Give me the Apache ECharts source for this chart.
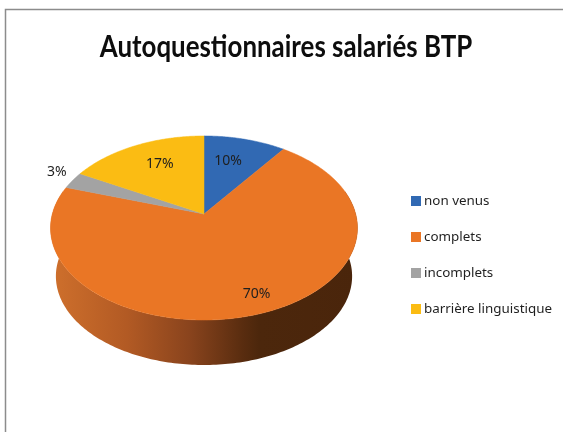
<!DOCTYPE html>
<html><head><meta charset="utf-8">
<style>html,body{margin:0;padding:0;background:#fff}#c{width:563px;height:432px}</style>
<script src="https://cdn.jsdelivr.net/npm/echarts@6/dist/echarts.min.js"></script></head>
<body><div id="c"></div><script>
const titleText = 'Autoquestionnaires salariés BTP';
const categories = ['non venus', 'complets', 'incomplets', 'barrière linguistique'];
const values = [10, 70, 3, 17];
const colors = ['#3169b3', '#ea7625', '#a3a3a3', '#fbbc13'];

// Projection of the tilted pie disc
const apex = [204, 214], A = 151.7, B = 89.9, K = 0.152;
const wallScale = 0.965, wallDrop = 48.7;
const labelRadius = [0.68, 0.82, 1.27, 0.71];
const labelNudge = [[-5, 0], [9, 0], [17, 0], [6, 0]];
const total = values.reduce((a, b) => a + b, 0);
const rad = d => d * Math.PI / 180;
function proj(deg, f) {
  const u = Math.sin(rad(deg)) * f, v = Math.cos(rad(deg)) * f, w = 1 + K * v;
  return [apex[0] + A * u / w, apex[1] - B * v / w];
}
function lower(p) {
  return [apex[0] + (p[0] - apex[0]) * wallScale, apex[1] + (p[1] - apex[1]) * wallScale + wallDrop];
}
const wallFill = new echarts.graphic.LinearGradient(0, 0, 1, 0, [
  { offset: 0, color: '#cf702c' }, { offset: 0.25, color: '#b25a24' },
  { offset: 0.45, color: '#8a441d' }, { offset: 0.63, color: '#582c0f' },
  { offset: 0.68, color: '#4c270c' }, { offset: 1, color: '#4a250b' }
]);
let acc = 0;
const series = categories.map((name, i) => {
  const start = acc / total * 360; acc += values[i];
  const end = acc / total * 360;
  return {
    type: 'custom', name, coordinateSystem: 'none', itemStyle: { color: colors[i] },
    data: [values[i]], silent: true, z: 2,
    renderItem: () => {
      const children = [];
      const a = Math.max(start, 75), b = Math.min(end, 285);
      if (b > a) {
        const top = [], bot = [];
        for (let d = a; d <= b; d += 1) { const p = proj(d, 1); top.push(p); bot.unshift(lower(p)); }
        children.push({ type: 'polygon', shape: { points: top.concat(bot) }, style: { fill: wallFill } });
      }
      const pts = [apex];
      for (let d = start; d <= end; d += 0.5) pts.push(proj(d, 1));
      pts.push(proj(end, 1));
      children.push({ type: 'polygon', shape: { points: pts },
        style: { fill: colors[i], stroke: colors[i], lineWidth: 0.5 } });
      const lp = proj((start + end) / 2, labelRadius[i]);
      children.push({ type: 'text', z2: 50, style: {
        x: lp[0] + labelNudge[i][0], y: lp[1] + labelNudge[i][1], text: values[i] + '%',
        font: '14px "Noto Sans"', fill: '#1f1f1f', align: 'center', verticalAlign: 'middle' } });
      return { type: 'group', children };
    }
  };
});
const chart = echarts.init(document.getElementById('c'), null, { renderer: 'canvas' });
chart.setOption({
  animation: false, backgroundColor: '#fff',
  legend: { orient: 'vertical', left: 406, top: 187, itemWidth: 10, itemHeight: 10, itemGap: 18, icon: 'rect',
    selectedMode: false, data: categories,
    textStyle: { fontFamily: '"Noto Sans"', fontSize: 13.4, color: '#1f1f1f', padding: [0, 0, 0, -2], lineHeight: 18 } },
  graphic: [
    { type: 'polyline', silent: true, shape: { points: [[5.5, 432], [5.5, 9.5], [563, 9.5]] },
      style: { stroke: '#8c8c8c', lineWidth: 1.5, fill: null } },
    { type: 'text', silent: true, x: 286, y: 47, scaleX: 0.835, scaleY: 1,
      style: { text: titleText, font: 'bold 31px Lato', fill: '#0d0d0d', align: 'center', verticalAlign: 'middle' } }
  ],
  series
});
</script></body></html>
